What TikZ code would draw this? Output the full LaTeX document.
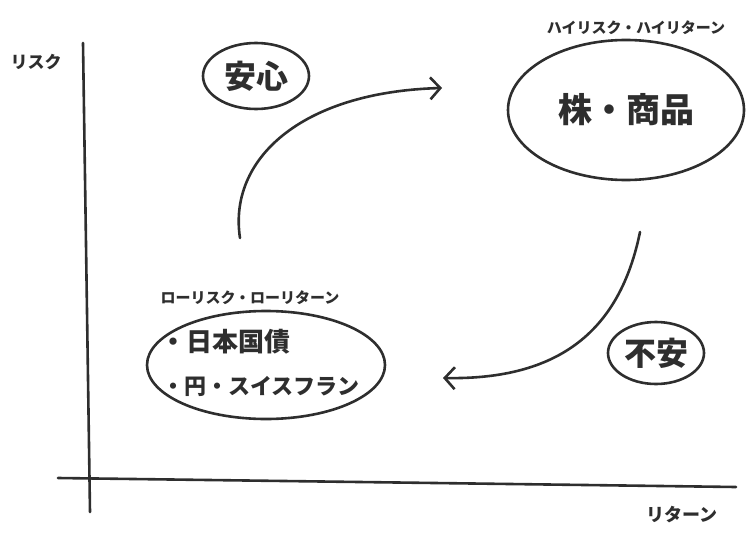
\documentclass[tikz,border=0pt]{standalone}
\usepackage{fontspec}
\setmainfont{Noto Sans CJK JP}
\usetikzlibrary{shapes.geometric,arrows.meta}
\definecolor{ink}{HTML}{2E2E2E}
\tikzset{
  line/.style={draw=ink, line width=2.6pt, line cap=round},
  blob/.style={ellipse, draw=ink, line width=2.6pt, inner sep=0pt, text=ink},
  lbl/.style={text=ink, inner sep=0pt},
  flow/.style={draw=ink, line width=2.6pt, line cap=round, -{Straight Barb[length=10pt,width=22pt,line width=2.6pt]}}
}
\begin{document}
\begin{tikzpicture}[x=1pt,y=-1pt]
\useasboundingbox (0,0) rectangle (751,532);
% axes
\coordinate (ytop) at (83,43);
\coordinate (ybot) at (90,512);
\coordinate (xl) at (58,478);
\coordinate (xr) at (736,487);
\draw[line] (ytop) -- (ybot);
\draw[line] (xl) -- (xr);
\node[lbl, font=\bfseries\fontsize{17}{17}\selectfont] (risk) at (36,62) {リスク};
\node[lbl, font=\bfseries\fontsize{18}{18}\selectfont] (ret) at (682,515) {リターン};
% ellipses
\node[blob, minimum width=106pt, minimum height=66pt, font=\bfseries\fontsize{32}{32}\selectfont] (anshin) at (256,76) {安心};
\node[blob, minimum width=236pt, minimum height=140pt, font=\bfseries\fontsize{34}{34}\selectfont] (kabu) at (626,110) {株・商品};
\node[lbl, font=\bfseries\fontsize{15}{15}\selectfont] (high) at (636,28) {ハイリスク・ハイリターン};
\node[blob, minimum width=96pt, minimum height=62pt, font=\bfseries\fontsize{32}{32}\selectfont] (fuan) at (656,353) {不安};
\node[blob, minimum width=238pt, minimum height=108pt] (low) at (266,365) {};
\node[lbl, font=\bfseries\fontsize{15}{15}\selectfont] (lowt) at (250,298) {ローリスク・ローリターン};
\node[lbl, font=\bfseries\fontsize{26}{26}\selectfont, anchor=west] (jgb) at (160,342) {・日本国債};
\node[lbl, font=\bfseries\fontsize{22}{22}\selectfont, anchor=west] (yen) at (162,386) {・円・スイスフラン};
% arrows
\coordinate (a1s) at (240,238);
\coordinate (a1e) at (442,88);
\coordinate (a2s) at (640,232);
\coordinate (a2e) at (443,378);
\draw[flow] (a1s) .. controls (228,160) and (300,92) .. (a1e);
\draw[flow] (a2s) .. controls (620,330) and (560,380) .. (a2e);
\end{tikzpicture}
\end{document}
